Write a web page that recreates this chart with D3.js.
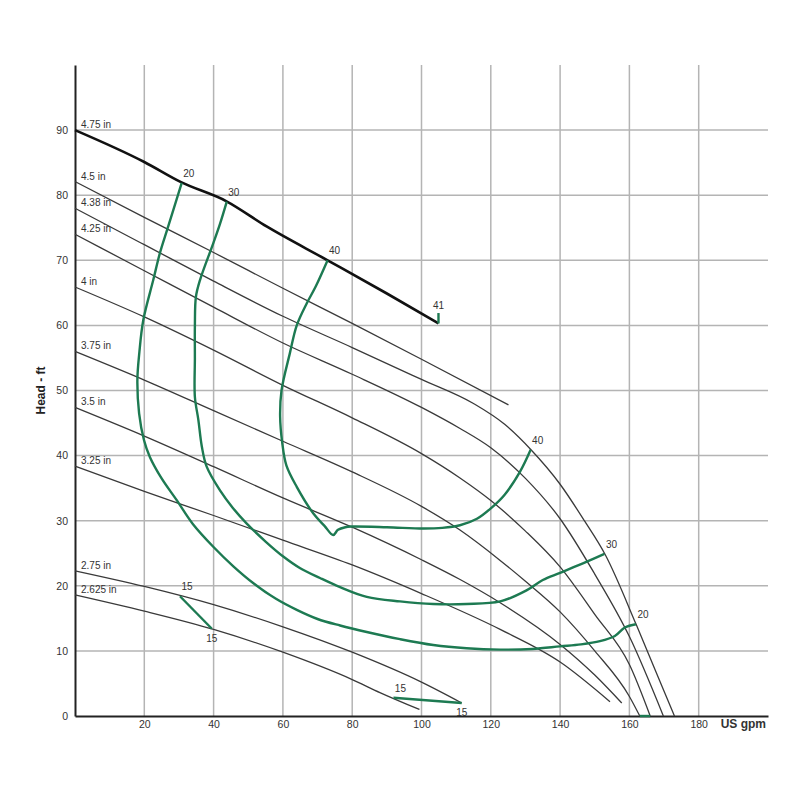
<!DOCTYPE html>
<html>
<head>
<meta charset="utf-8">
<script src="https://cdn.jsdelivr.net/npm/d3@7"></script>
<style>
    body { margin: 0; background: #fff; }
    svg { font-family: 'Liberation Sans', Arial, sans-serif; }
</style>
</head>
<body>
<div id="chart"></div>
<script>
// impeller curves, [US gpm, head ft]
const imp475 = [[0, 90], [20, 85.1], [30.6, 82], [43.6, 79.1], [55.3, 75.2], [72.9, 70], [90, 64.9], [104.9, 60.3]];
const imp450 = [[0, 82.1], [20, 76.6], [40, 71.2], [60, 65.7], [80, 60.3], [100, 54.8], [125.1, 47.8]];
const imp438 = [[0, 78], [20, 72.4], [40, 66.8], [60, 61.4], [80, 56.6], [100, 51.7], [115, 48], [124, 44.8],
    [131.6, 40.9], [140, 35.6], [147, 30], [153, 24.8], [162, 14], [167.5, 7], [173, 0]];
const imp425 = [[0, 74], [20, 68.4], [40, 62.8], [60, 57.3], [80, 52.5], [100, 47.4], [111, 44.2], [120, 41.2],
    [130, 36.5], [140, 30.3], [150, 21.8], [160, 12.2], [169.8, 0]];
const imp400 = [[0, 65.9], [20, 61.3], [40, 56.2], [60, 50.8], [80, 45.8], [100, 40.3], [111, 36.6], [120, 33.1],
    [130, 28.4], [140, 22.9], [150, 15.6], [160, 7.9], [166, 0]];
const imp375 = [[0, 56], [20, 51.6], [40, 46.9], [60, 42.2], [80, 37.5], [100, 32.2], [111, 28.6], [122.7, 23.9],
    [130, 20.7], [140, 16], [150, 10], [160, 3], [163, 0]];
const imp350 = [[0, 47.4], [20, 43], [40, 38.3], [60, 33.5], [80, 29], [100, 24], [111, 21], [122.7, 17.4],
    [140, 11], [150, 6.3], [157.8, 2]];
const imp325 = [[0, 38.4], [20, 34.5], [40, 30.8], [60, 27], [80, 23.2], [100, 18.8], [122.7, 13.3], [140, 8.3],
    [154.4, 2.2]];
const imp275 = [[0, 22.3], [20, 19.9], [40, 17.1], [60, 13.7], [80, 9.8], [100, 5.2], [111.6, 2]];
const imp2625 = [[0, 18.6], [20, 16.1], [40, 13.3], [60, 9.8], [80, 5.6], [88, 3.6], [99.4, 1]];

const impNames = ['4.75 in', '4.5 in', '4.38 in', '4.25 in', '4 in', '3.75 in', '3.5 in', '3.25 in', '2.75 in', '2.625 in'];
const impCurves = [imp475, imp450, imp438, imp425, imp400, imp375, imp350, imp325, imp275, imp2625];

// efficiency curves
const eff20 = [[30.8, 81.9], [26.9, 75.2], [24.5, 71.1], [22.6, 67], [19.7, 60.8], [18.6, 56], [18, 51.6], [18.5, 46.5],
    [19.9, 42.4], [21.6, 39.8], [25, 36.5], [29.3, 33.2], [34, 29.5], [39.9, 26], [45.7, 23], [51.5, 20.4], [58, 18],
    [64, 16.3], [70, 14.9], [76.5, 13.9], [84.2, 12.9], [93.8, 11.8], [103.4, 10.9], [113, 10.4], [122.7, 10.2],
    [132, 10.3], [140, 10.7], [146, 11], [151.5, 11.5], [155.8, 12.3], [158.7, 13.6], [161.9, 14.1]];
const eff30 = [[43.8, 79], [41.8, 75.5], [39.9, 72.6], [36.1, 67], [34.9, 64.4], [34.6, 60], [34.6, 55], [34.6, 49],
    [35.6, 45.5], [36.6, 41.4], [38, 38.3], [41.8, 34.7], [45.5, 32], [49.5, 29.6], [55, 26.8], [60.1, 24.5], [65, 22.7],
    [70.7, 21.2], [76.5, 19.8], [84.2, 18.3], [93.8, 17.6], [103.4, 17.2], [113, 17.2], [122.7, 17.6], [130.3, 19.3],
    [135, 20.9], [140, 22], [147.7, 23.7], [152.8, 24.9]];
const eff40 = [[72.9, 70], [69.5, 66], [66.9, 63.4], [64, 60], [62, 55.7], [59.6, 50], [59.2, 46], [59.8, 42], [61, 38.5],
    [64, 35.2], [68.8, 31.1], [72, 29.2], [74.5, 27.8], [75.9, 28.6], [78, 29], [79.8, 29.1], [90, 29], [100.5, 28.8],
    [106, 28.9], [111.1, 29.3], [116, 30.3], [120, 31.9], [124, 34], [128.4, 37.5], [131.5, 40.9]];
const eff41 = [[104.9, 60.3], [104.9, 61.9]];
const eff15a = [[30.3, 18.4], [39.5, 13.4]];
const eff15b = [[91.9, 2.8], [111.6, 2]];
const effBase = [[163, 0], [166, 0]];

const effCurves = [eff20, eff30, eff40, eff41, eff15a, eff15b, effBase];

// efficiency labels: text, anchor point, above / below
const effLabels = [
    ['20', 30.8, 81.9, 'up'], ['30', 43.8, 79, 'up'], ['40', 72.9, 70, 'up'], ['41', 104.9, 61.9, 'top'],
    ['40', 131.5, 40.9, 'up'], ['30', 152.8, 24.9, 'up'], ['20', 161.9, 14.1, 'up'],
    ['15', 30.3, 18.4, 'up'], ['15', 39.5, 13.4, 'down'], ['15', 91.9, 2.8, 'up'], ['15', 111.6, 2, 'down']
];

const xTicks = [20, 40, 60, 80, 100, 120, 140, 160, 180];
const yTicks = [0, 10, 20, 30, 40, 50, 60, 70, 80, 90];

const draw = () => {
    const width = 800;
    const height = 800;
    const svg = d3.select('#chart').append('svg').attr('width', width).attr('height', height);

    const x = d3.scaleLinear().domain([0, 200]).range([75, 768]);
    const y = d3.scaleLinear().domain([0, 100]).range([716, 65]);

    // grid
    svg.append('g')
        .selectAll('line')
        .data(xTicks)
        .enter()
        .append('line')
        .attr('x1', (d) => x(d))
        .attr('x2', (d) => x(d))
        .attr('y1', y(100))
        .attr('y2', y(0))
        .attr('stroke', '#b4b4b4')
        .attr('stroke-width', 1.5);

    svg.append('g')
        .selectAll('line')
        .data(yTicks.filter((d) => d > 0))
        .enter()
        .append('line')
        .attr('x1', x(0))
        .attr('x2', x(200))
        .attr('y1', (d) => y(d))
        .attr('y2', (d) => y(d))
        .attr('stroke', '#b4b4b4')
        .attr('stroke-width', 1.5);

    // axes
    const xAxis = d3.axisBottom(x).tickValues(xTicks).tickSize(0).tickPadding(5);
    const yAxis = d3.axisLeft(y).tickValues(yTicks).tickSize(0).tickPadding(7);

    const gx = svg.append('g').attr('transform', 'translate(0,' + y(0) + ')').call(xAxis);
    const gy = svg.append('g').attr('transform', 'translate(' + x(0) + ',0)').call(yAxis);
    [gx, gy].forEach((g) => {
        g.select('.domain').attr('stroke', '#222').attr('stroke-width', 2);
        g.selectAll('text').attr('fill', '#333').style('font-size', '10.5px')
            .style('font-family', "'Liberation Sans', Arial, sans-serif");
    });

    svg.append('text')
        .attr('x', 766)
        .attr('y', 728)
        .attr('text-anchor', 'end')
        .attr('fill', '#333')
        .style('font-size', '12px')
        .style('font-weight', 'bold')
        .text('US gpm');

    svg.append('text')
        .attr('transform', 'translate(45,' + y(50) + ') rotate(-90)')
        .attr('text-anchor', 'middle')
        .attr('fill', '#222')
        .style('font-size', '12px')
        .style('font-weight', 'bold')
        .text('Head - ft');

    const impLine = d3.line()
        .x((d) => x(d[0]))
        .y((d) => y(d[1]))
        .curve(d3.curveMonotoneX);

    const effLine = d3.line()
        .x((d) => x(d[0]))
        .y((d) => y(d[1]))
        .curve(d3.curveCatmullRom.alpha(0.5));

    // impeller curves
    svg.append('g')
        .selectAll('path')
        .data(impCurves)
        .enter()
        .append('path')
        .attr('d', impLine)
        .attr('fill', 'none')
        .attr('stroke', (d, i) => (i === 0 ? '#111' : '#3a3a3a'))
        .attr('stroke-width', (d, i) => (i === 0 ? 2.6 : 1.3));

    svg.append('g')
        .selectAll('text')
        .data(impCurves)
        .enter()
        .append('text')
        .attr('x', (d) => x(d[0][0]) + 6)
        .attr('y', (d) => y(d[0][1]) - 2)
        .attr('fill', '#333')
        .style('font-size', '10px')
        .text((d, i) => impNames[i]);

    // efficiency curves
    svg.append('g')
        .selectAll('path')
        .data(effCurves)
        .enter()
        .append('path')
        .attr('d', effLine)
        .attr('fill', 'none')
        .attr('stroke', '#1d7a52')
        .attr('stroke-width', 2.4);

    svg.append('g')
        .selectAll('text')
        .data(effLabels)
        .enter()
        .append('text')
        .attr('x', (d) => x(d[1]) + (d[3] === 'up' ? 7 : 0))
        .attr('y', (d) => y(d[2]) + (d[3] === 'down' ? 13 : d[3] === 'top' ? -4 : -6))
        .attr('text-anchor', 'middle')
        .attr('fill', '#333')
        .style('font-size', '10px')
        .text((d) => d[0]);
};

draw();
</script>
</body>
</html>
